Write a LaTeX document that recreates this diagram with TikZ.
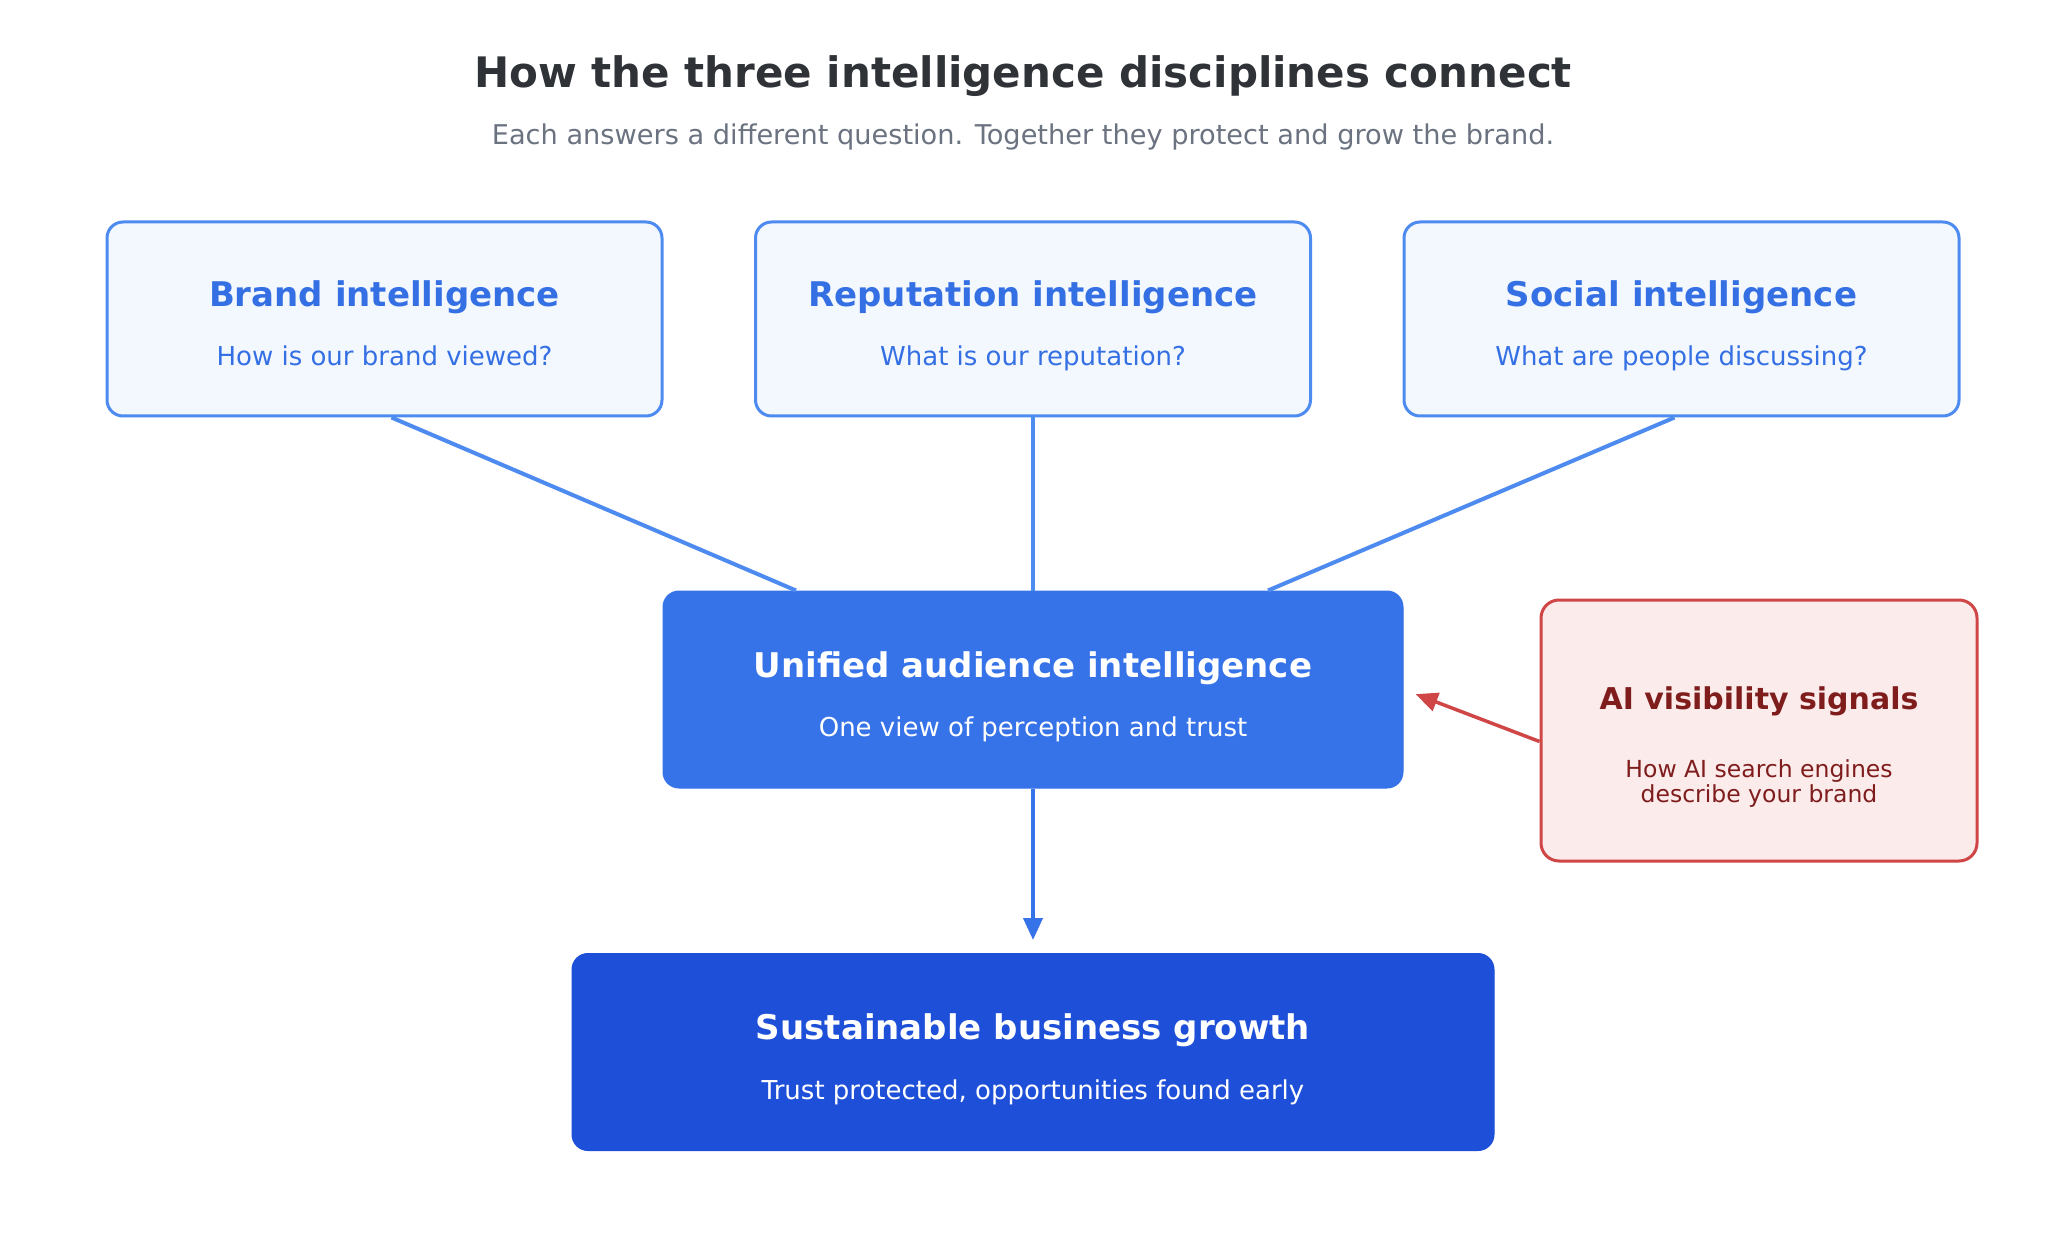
\documentclass[tikz,border=0pt]{standalone}
\usepackage{fontspec}
\setmainfont{DejaVu Sans}
\usetikzlibrary{arrows.meta}
\definecolor{titlecol}{HTML}{2F3237}
\definecolor{subcol}{HTML}{6B7280}
\definecolor{topline}{HTML}{4D8BF0}
\definecolor{topfill}{HTML}{F3F7FE}
\definecolor{toptext}{HTML}{3470E4}
\definecolor{midfill}{HTML}{3672E8}
\definecolor{botfill}{HTML}{1E4FD8}
\definecolor{redline}{HTML}{D04646}
\definecolor{redfill}{HTML}{FCEBEB}
\definecolor{redtext}{HTML}{7F1D1D}
\tikzset{
  topbox/.style={draw=topline, fill=topfill, line width=3pt, rounded corners=16pt,
    minimum width=555pt, minimum height=194pt, inner sep=0pt},
  midbox/.style={draw=midfill, fill=midfill, line width=1pt, rounded corners=16pt,
    minimum width=740pt, minimum height=197pt, inner sep=0pt},
  botbox/.style={draw=botfill, fill=botfill, line width=1pt, rounded corners=16pt,
    minimum width=922pt, minimum height=197pt, inner sep=0pt},
  aibox/.style={draw=redline, fill=redfill, line width=3pt, rounded corners=18pt,
    minimum width=436pt, minimum height=261pt, inner sep=0pt},
  boxtitle/.style={anchor=base, inner sep=0pt, font=\fontsize{34}{40}\selectfont\bfseries},
  boxsub/.style={anchor=base, inner sep=0pt, font=\fontsize{26}{30}\selectfont},
  link/.style={draw=topline, line width=4pt},
  flow/.style={draw=midfill, line width=4pt, -{Triangle[length=22pt,width=19pt]}},
  redflow/.style={draw=redline, line width=3.5pt, -{Triangle[length=22pt,width=19pt]}},
}
\begin{document}
\begin{tikzpicture}[x=1pt,y=-1pt]
\path[fill=white, use as bounding box] (0,0) rectangle (2046,1246);

\node[anchor=base, inner sep=0pt, text=titlecol, font=\fontsize{42}{48}\selectfont\bfseries] (title) at (1023,88) {How the three intelligence disciplines connect};
\node[anchor=base, inner sep=0pt, text=subcol, font=\fontsize{27.2}{30}\selectfont] (subtitle) at (1023,145) {Each answers a different question. Together they protect and grow the brand.};

\node[topbox] (b1) at (384.5,319) {};
\node[topbox] (b2) at (1033,319) {};
\node[topbox] (b3) at (1681.5,319) {};
\node[midbox] (c) at (1033,689.5) {};
\node[botbox] (g) at (1033,1052) {};
\node[aibox] (ai) at (1759,730.5) {};

\draw[link] ([xshift=7pt]b1.south) -- ([xshift=-237pt]c.north);
\draw[link] (b2.south) -- (c.north);
\draw[link] ([xshift=-7pt]b3.south) -- ([xshift=235pt]c.north);
\draw[flow, shorten >=13pt] (c.south) -- (g.north);
\draw[redflow, shorten >=13pt] ([yshift=-11pt]ai.west) -- (c.east);

\node[boxtitle, text=toptext] (b1t) at (384.5,307) {Brand intelligence};
\node[boxsub, text=toptext] (b1s) at (384.5,366) {How is our brand viewed?};
\node[boxtitle, text=toptext] (b2t) at (1033,307) {Reputation intelligence};
\node[boxsub, text=toptext] (b2s) at (1033,366) {What is our reputation?};
\node[boxtitle, text=toptext] (b3t) at (1681.5,307) {Social intelligence};
\node[boxsub, text=toptext] (b3s) at (1681.5,366) {What are people discussing?};

\node[boxtitle, text=white] (ct) at (1033,677) {Unified audience intelligence};
\node[boxsub, text=white] (cs) at (1033,736) {One view of perception and trust};

\node[boxtitle, text=white] (gt) at (1033,1039) {Sustainable business growth};
\node[boxsub, text=white] (gs) at (1033,1099) {Trust protected, opportunities found early};

\node[anchor=base, inner sep=0pt, text=redtext, font=\fontsize{30}{35}\selectfont\bfseries] (ait) at (1759,709) {AI visibility signals};
\node[anchor=base, inner sep=0pt, text=redtext, font=\fontsize{23.5}{26}\selectfont] (ais1) at (1759,777) {How AI search engines};
\node[anchor=base, inner sep=0pt, text=redtext, font=\fontsize{23.5}{26}\selectfont] (ais2) at (1759,802) {describe your brand};
\end{tikzpicture}
\end{document}
